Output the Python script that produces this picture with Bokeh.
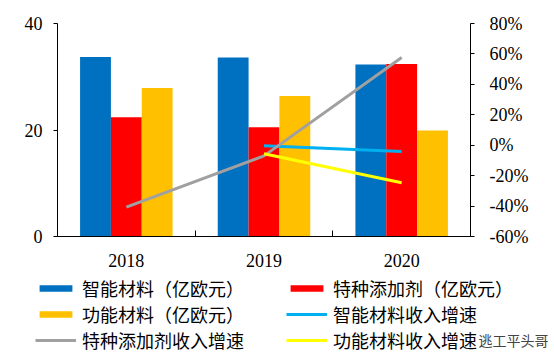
import numpy as np
from bokeh.plotting import figure
from bokeh.models import (ColumnDataSource, Range1d, LinearAxis, FixedTicker,
                          PrintfTickFormatter, Legend, LegendItem, Label)
from bokeh.transform import dodge
from bokeh.embed import file_html
from bokeh.resources import INLINE

# ---- data ----
years = ["2018", "2019", "2020"]
smart_rev = [33.7, 33.6, 32.3]        # 智能材料（亿欧元）
special_rev = [22.4, 20.5, 32.4]      # 特种添加剂（亿欧元）
functional_rev = [27.9, 26.4, 19.9]   # 功能材料（亿欧元）
special_growth = [-40.7, -7.0, 57.6]  # 特种添加剂收入增速 (%)
growth_years = ["2019", "2020"]
smart_growth = [-0.3, -4.1]           # 智能材料收入增速 (%)
functional_growth = [-5.6, -24.7]     # 功能材料收入增速 (%)
left_ticks = [0, 20, 40]
right_ticks = [-60, -40, -20, 0, 20, 40, 60, 80]
legend_labels = ["智能材料（亿欧元）", "特种添加剂（亿欧元）", "功能材料（亿欧元）",
                 "智能材料收入增速", "特种添加剂收入增速", "功能材料收入增速"]
watermark = "逃工平头哥"

xc = np.arange(len(years)) + 0.5
gxc = np.array([years.index(y) for y in growth_years]) + 0.5

src = ColumnDataSource(dict(xc=xc, smart=smart_rev, special=special_rev,
                            functional=functional_rev, sg=special_growth))
gsrc = ColumnDataSource(dict(xc=gxc, smg=smart_growth, fg=functional_growth))

BLUE = "#0070C0"
RED = "#FF0000"
GOLD = "#FFC000"
LBLUE = "#00B0F0"
GRAY = "#A0A0A0"
YELLOW = "#FFFF00"

SERIF = "Liberation Serif"
CJK = "Noto Sans CJK SC"

W = 554
H_MAIN = 270
H_LEG = 91


def draw_series(fig, visible=True):
    bw = 0.224
    kw = dict(width=bw, source=src, line_color=None, visible=visible)
    r1 = fig.vbar(x=dodge("xc", -bw), top="smart", fill_color=BLUE, **kw)
    r2 = fig.vbar(x=dodge("xc", 0), top="special", fill_color=RED, **kw)
    r3 = fig.vbar(x=dodge("xc", bw), top="functional", fill_color=GOLD, **kw)
    rng = {"y_range_name": "pct"} if visible else {}
    r4 = fig.line(x="xc", y="smg", source=gsrc, line_color=LBLUE, line_width=3,
                  visible=visible, **rng)
    r5 = fig.line(x="xc", y="sg", source=src, line_color=GRAY, line_width=3,
                  visible=visible, **rng)
    r6 = fig.line(x="xc", y="fg", source=gsrc, line_color=YELLOW, line_width=3,
                  visible=visible, **rng)
    return [r1, r2, r3, r4, r5, r6]


p = figure(width=W, height=H_MAIN, output_backend="svg", toolbar_location=None,
           x_range=Range1d(0, len(years)), y_range=Range1d(0, 40),
           min_border_left=57, min_border_right=84, min_border_top=23,
           min_border_bottom=34, x_axis_type=None, y_axis_type=None)
p.outline_line_color = None
p.background_fill_color = "white"
p.border_fill_color = "white"
p.xgrid.visible = False
p.ygrid.visible = False
p.extra_y_ranges = {"pct": Range1d(-60, 80)}
draw_series(p)


def style_axis(ax):
    ax.axis_line_color = "black"
    ax.axis_line_width = 1
    ax.major_tick_line_color = "black"
    ax.minor_tick_line_color = "black"
    ax.major_label_text_font = SERIF
    ax.major_label_text_font_size = "18px"
    ax.major_label_text_color = "black"


ly = LinearAxis(ticker=FixedTicker(ticks=left_ticks, minor_ticks=[]))
style_axis(ly)
ly.major_tick_out = 4
ly.major_tick_in = 0
ly.major_label_standoff = 11
p.add_layout(ly, "left")

ry = LinearAxis(y_range_name="pct", ticker=FixedTicker(ticks=right_ticks, minor_ticks=[]),
                formatter=PrintfTickFormatter(format="%d%%"))
style_axis(ry)
ry.major_tick_out = 4
ry.major_tick_in = 0
ry.major_label_standoff = 15
p.add_layout(ry, "right")

bx = LinearAxis(ticker=FixedTicker(ticks=list(xc),
                                   minor_ticks=list(np.arange(len(years) + 1))),
                major_label_overrides={float(c): y for c, y in zip(xc, years)})
style_axis(bx)
bx.major_tick_out = 0
bx.major_tick_in = 0
bx.minor_tick_in = 6
bx.minor_tick_out = 0
bx.major_label_standoff = 17
p.add_layout(bx, "below")

# ---- legend panel (separate root so it is neither aligned nor clipped) ----
q = figure(width=W, height=H_LEG, output_backend="svg", toolbar_location=None,
           x_range=Range1d(0, W), y_range=Range1d(0, H_LEG),
           min_border=0, x_axis_type=None, y_axis_type=None)
q.outline_line_color = None
q.xgrid.visible = False
q.ygrid.visible = False
q.border_fill_color = "white"
q.background_fill_color = "white"
lr = draw_series(q, visible=False)

legend = Legend(items=[LegendItem(label=t, renderers=[r]) for t, r in zip(legend_labels, lr)],
                orientation="horizontal", ncols=2, location=(35, 8))
legend.border_line_color = None
legend.background_fill_alpha = 0
legend.padding = 0
legend.margin = 0
legend.spacing = 0
legend.glyph_width = 41
legend.glyph_height = 8
legend.label_height = 18
legend.label_width = 204
legend.label_standoff = 6
legend.label_text_font = CJK
legend.label_text_font_size = "18px"
legend.label_text_color = "black"
legend.label_text_baseline = "middle"
q.add_layout(legend, "center")

wm = Label(x=478, y=22, text=watermark, text_font=CJK,
           text_font_size="14px", text_color="#444444", text_baseline="middle")
q.add_layout(wm)

open("out.html", "w").write(file_html([p, q], INLINE))
